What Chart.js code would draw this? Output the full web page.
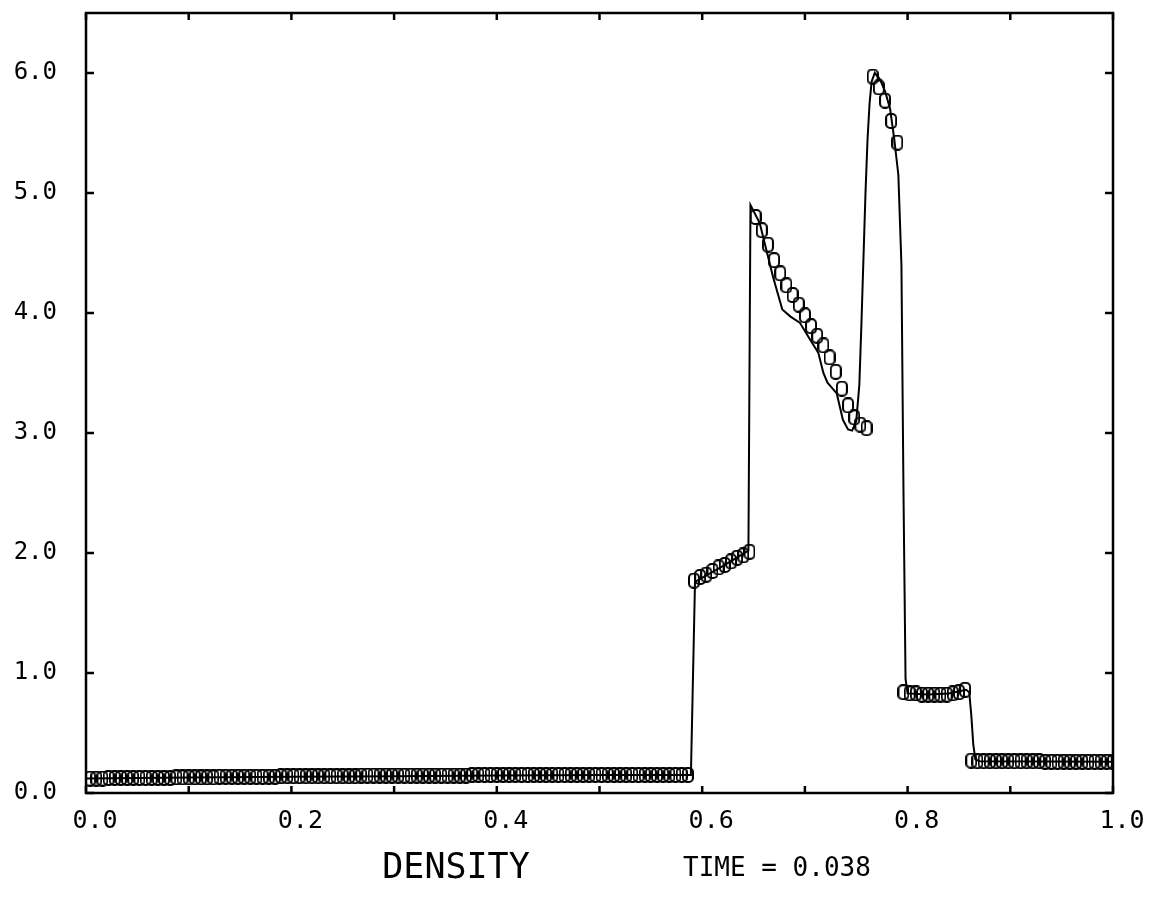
<!DOCTYPE html>
<html>
<head>
<meta charset="utf-8">
<script src="https://cdn.jsdelivr.net/npm/chart.js@4.4.1/dist/chart.umd.min.js"></script>
<style>
  html, body { margin: 0; padding: 0; background: #fff; }
  canvas { display: block; }
</style>
</head>
<body>
<canvas id="c" width="1152" height="901"></canvas>
<script>
// ---- data ----
const markerX = [
  0.004,0.010,0.016,0.022,0.028,0.034,0.040,0.046,0.052,0.058,
  0.064,0.070,0.076,0.082,0.088,0.094,0.100,0.106,0.112,0.118,
  0.124,0.130,0.136,0.142,0.148,0.154,0.160,0.166,0.172,0.178,
  0.184,0.190,0.196,0.202,0.208,0.214,0.220,0.226,0.232,0.238,
  0.244,0.250,0.256,0.262,0.268,0.274,0.280,0.286,0.292,0.298,
  0.304,0.310,0.316,0.322,0.328,0.334,0.340,0.346,0.352,0.358,
  0.364,0.370,0.376,0.382,0.388,0.394,0.400,0.406,0.412,0.418,
  0.424,0.430,0.436,0.442,0.448,0.454,0.460,0.466,0.472,0.478,
  0.484,0.490,0.496,0.502,0.508,0.514,0.520,0.526,0.532,0.538,
  0.544,0.550,0.556,0.562,0.568,0.574,0.580,0.586,0.592,0.598,
  0.604,0.610,0.616,0.622,0.628,0.634,0.640,0.646,0.652,0.658,
  0.664,0.670,0.676,0.682,0.688,0.694,0.700,0.706,0.712,0.718,
  0.724,0.730,0.736,0.742,0.748,0.754,0.760,0.766,0.772,0.778,
  0.784,0.790,0.796,0.802,0.808,0.814,0.820,0.826,0.832,0.838,
  0.844,0.850,0.856,0.862,0.868,0.874,0.880,0.886,0.892,0.898,
  0.904,0.910,0.916,0.922,0.928,0.934,0.940,0.946,0.952,0.958,
  0.964,0.970,0.976,0.982,0.988,0.994,1.000
];
const markerY = [
  0.12,0.12,0.12,0.125,0.125,0.125,0.125,0.125,0.125,0.125,
  0.125,0.125,0.125,0.125,0.13,0.13,0.13,0.13,0.13,0.13,
  0.13,0.135,0.135,0.135,0.135,0.135,0.135,0.135,0.135,0.135,
  0.135,0.14,0.14,0.14,0.14,0.14,0.14,0.14,0.14,0.14,
  0.14,0.14,0.14,0.14,0.145,0.145,0.145,0.145,0.145,0.145,
  0.145,0.145,0.145,0.145,0.145,0.145,0.145,0.145,0.145,0.145,
  0.145,0.145,0.15,0.15,0.15,0.15,0.15,0.15,0.15,0.15,
  0.15,0.15,0.15,0.15,0.15,0.15,0.15,0.15,0.15,0.15,
  0.15,0.15,0.15,0.15,0.15,0.15,0.15,0.15,0.15,0.15,
  0.15,0.15,0.15,0.15,0.15,0.15,0.15,0.15,1.77,1.80,
  1.82,1.85,1.88,1.90,1.93,1.96,1.98,2.01,4.80,4.69,
  4.57,4.44,4.33,4.23,4.15,4.07,3.98,3.89,3.81,3.73,
  3.63,3.51,3.37,3.23,3.13,3.07,3.04,5.97,5.88,5.77,
  5.60,5.42,0.84,0.83,0.83,0.82,0.82,0.82,0.82,0.82,
  0.83,0.84,0.86,0.27,0.265,0.265,0.265,0.265,0.265,0.265,
  0.265,0.265,0.265,0.265,0.265,0.26,0.26,0.26,0.26,0.26,
  0.26,0.26,0.26,0.26,0.26,0.26,0.26
];
const lineX = [0.0,0.1,0.2,0.3,0.4,0.5,0.589,0.593,0.620,0.645,0.647,
  0.656,0.669,0.678,0.686,0.695,0.705,0.713,0.718,0.722,0.731,
  0.737,0.742,0.746,0.750,0.753,0.755,0.757,0.759,0.761,0.763,
  0.765,0.768,0.773,0.778,0.783,0.787,0.791,0.794,0.796,0.798,
  0.800,0.82,0.84,0.857,0.860,0.862,0.864,0.866,0.87,1.0];
const lineY = [0.12,0.13,0.135,0.14,0.145,0.15,0.15,1.76,1.89,2.02,4.90,
  4.75,4.30,4.03,3.97,3.92,3.78,3.67,3.50,3.42,3.33,
  3.11,3.03,3.02,3.10,3.40,3.90,4.45,5.0,5.45,5.75,
  5.93,6.0,5.95,5.85,5.70,5.45,5.15,4.40,2.50,0.95,
  0.83,0.82,0.83,0.86,0.84,0.65,0.40,0.28,0.265,0.26];
const xTitle = 'DENSITY';
const timeLabel = 'TIME = 0.038';

// ---- marker glyph: upright rounded rectangle ----
const mk = document.createElement('canvas');
mk.width = 12; mk.height = 16;
(function(){
  const g = mk.getContext('2d');
  g.strokeStyle = '#000'; g.lineWidth = 2;
  const x0 = 1, y0 = 1, w = 10, h = 14, r = 4;
  g.beginPath();
  g.moveTo(x0 + r, y0);
  g.lineTo(x0 + w - r, y0);
  g.arcTo(x0 + w, y0, x0 + w, y0 + r, r);
  g.lineTo(x0 + w, y0 + h - r);
  g.arcTo(x0 + w, y0 + h, x0 + w - r, y0 + h, r);
  g.lineTo(x0 + r, y0 + h);
  g.arcTo(x0, y0 + h, x0, y0 + h - r, r);
  g.lineTo(x0, y0 + r);
  g.arcTo(x0, y0, x0 + r, y0, r);
  g.closePath();
  g.stroke();
})();

const FONT = "'DejaVu Sans Mono', 'Liberation Mono', monospace";

const frame = {
  id: 'frame',
  afterDraw(chart) {
    const {ctx, chartArea: a, scales: {x, y}} = chart;
    ctx.save();
    ctx.strokeStyle = '#000';
    ctx.lineWidth = 2.5;
    ctx.strokeRect(a.left, a.top, a.right - a.left, a.bottom - a.top);
    ctx.beginPath();
    x.ticks.forEach(t => {
      const p = x.getPixelForValue(t.value);
      ctx.moveTo(p, a.bottom); ctx.lineTo(p, a.bottom - 7);
      ctx.moveTo(p, a.top); ctx.lineTo(p, a.top + 7);
    });
    y.ticks.forEach(t => {
      if (!Number.isInteger(t.value)) return;
      const p = y.getPixelForValue(t.value);
      ctx.moveTo(a.left, p); ctx.lineTo(a.left + 8, p);
      ctx.moveTo(a.right, p); ctx.lineTo(a.right - 8, p);
    });
    ctx.stroke();
    ctx.fillStyle = '#000';
    ctx.textBaseline = 'alphabetic';
    ctx.textAlign = 'center';
    ctx.font = "35px " + FONT;
    ctx.fillText(xTitle, 456, 878);
    ctx.textAlign = 'left';
    ctx.font = "26px " + FONT;
    ctx.fillText(timeLabel, 683, 876);
    ctx.restore();
  }
};

new Chart(document.getElementById('c'), {
  type: 'scatter',
  data: {
    datasets: [
      {
        data: lineX.map((v, i) => ({x: v, y: lineY[i]})),
        showLine: true,
        borderColor: '#000',
        borderWidth: 2,
        pointRadius: 0,
        tension: 0
      },
      {
        data: markerX.map((v, i) => ({x: v, y: markerY[i]})),
        showLine: false,
        pointStyle: mk,
        pointRadius: 5,
        borderColor: '#000',
        backgroundColor: 'rgba(0,0,0,0)'
      }
    ]
  },
  options: {
    responsive: false,
    animation: false,
    devicePixelRatio: 1,
    layout: { padding: { top: 13, right: 39, left: 0, bottom: 0 } },
    plugins: { legend: { display: false }, tooltip: { enabled: false } },
    scales: {
      x: {
        type: 'linear', min: 0, max: 1,
        grid: { display: false, drawTicks: false },
        border: { display: false },
        ticks: {
          stepSize: 0.1, autoSkip: false, maxRotation: 0, minRotation: 0,
          labelOffset: 9, padding: 13, color: '#000',
          font: { family: FONT, size: 25 },
          callback: v => (Math.round(v * 10) % 2 === 0 ? v.toFixed(1) : '')
        },
        afterFit: s => { s.height = 108; s.paddingLeft = 0; s.paddingRight = 0; }
      },
      y: {
        type: 'linear', min: 0, max: 6.5,
        grid: { display: false, drawTicks: false },
        border: { display: false },
        ticks: {
          stepSize: 1, autoSkip: false, padding: 29, color: '#000',
          font: { family: FONT, size: 24 },
          callback: v => (Number.isInteger(v) ? v.toFixed(1) : '')
        },
        afterFit: s => { s.width = 86; s.paddingTop = 0; s.paddingBottom = 0; }
      }
    }
  },
  plugins: [frame]
});
</script>
</body>
</html>
